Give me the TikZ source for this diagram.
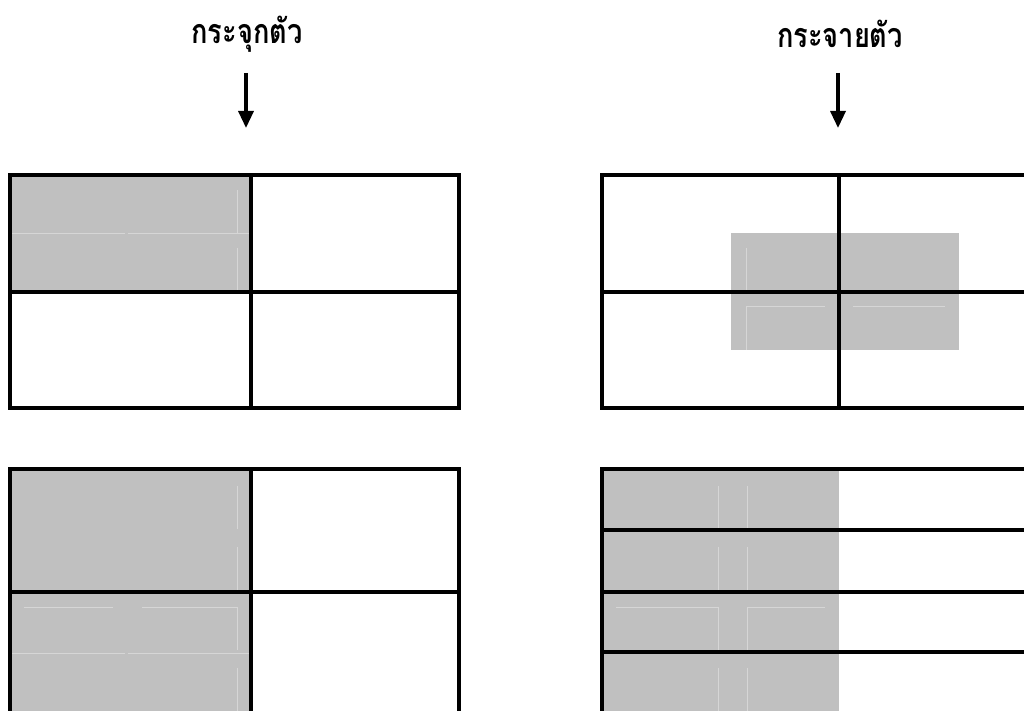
\documentclass[tikz,border=0pt]{standalone}
\usepackage{fontspec}
\newfontfamily\thaifont[Script=Thai, FakeStretch=0.8]{Loma}
\usetikzlibrary{arrows.meta}
\definecolor{cellgray}{HTML}{C0C0C0}
\definecolor{seam}{HTML}{D6D6D6}

\begin{document}
\begin{tikzpicture}[x=1pt,y=-1pt,
  gridline/.style={line width=3.3pt, line cap=rect},
  seamline/.style={seam, line width=0.7pt},
  flow/.style={line width=3.3pt, -{Triangle[width=15pt,length=17pt]}},
  title/.style={font=\thaifont\bfseries\fontsize{34}{40}\selectfont, inner sep=0pt}]
\useasboundingbox (0,0) rectangle (1024,711);
\clip (0,0) rectangle (1024,711);

% headings and arrows
\node[title] (t1) at (247,34) {กระจุกตัว};
\node[title] (t2) at (840,34) {กระจายตัว};
\coordinate (a1s) at (246,73);  \coordinate (a1e) at (246,128);
\coordinate (a2s) at (838,73);  \coordinate (a2e) at (838,128);
\draw[flow] (a1s) -- (a1e);
\draw[flow] (a2s) -- (a2e);

% ---- clustered, upper grid
\fill[cellgray] (10,175) rectangle (251,292);
\draw[seamline] (10,233) -- (125,233) (128,233) -- (251,233);
\draw[seamline] (237,190) -- (237,233) (237,248) -- (237,292);
\draw[gridline] (10,175) rectangle (459,408);
\draw[gridline] (10,292) -- (459,292);
\draw[gridline] (251,175) -- (251,408);

% ---- dispersed, upper grid
\fill[cellgray] (731,233) rectangle (959,350);
\draw[seamline] (746,248) -- (746,292) (746,306) -- (746,350);
\draw[seamline] (746,306) -- (825,306) (853,306) -- (945,306);
\draw[gridline] (1030,175) -- (602,175) -- (602,408) -- (1030,408);
\draw[gridline] (602,292) -- (1030,292);
\draw[gridline] (839,175) -- (839,408);

% ---- clustered, lower grid
\fill[cellgray] (10,469) rectangle (251,720);
\draw[seamline] (237,486) -- (237,529) (237,547) -- (237,592)
                (237,607) -- (237,650) (237,668) -- (237,720);
\draw[seamline] (24,607) -- (113,607) (142,607) -- (237,607);
\draw[seamline] (10,653) -- (125,653) (128,653) -- (251,653);
\draw[gridline] (10,720) -- (10,469) -- (459,469) -- (459,720);
\draw[gridline] (10,592) -- (459,592);
\draw[gridline] (251,469) -- (251,720);

% ---- dispersed, lower grid
\fill[cellgray] (602,469) rectangle (839,720);
\foreach \xx in {718,747}{
  \draw[seamline] (\xx,486) -- (\xx,530) (\xx,547) -- (\xx,592)
                  (\xx,607) -- (\xx,652) (\xx,668) -- (\xx,720);
}
\draw[seamline] (616,607) -- (718,607) (747,607) -- (825,607);
\draw[gridline] (602,720) -- (602,469) -- (1030,469);
\foreach \yy in {530,592,652}{
  \draw[gridline] (602,\yy) -- (1030,\yy);
}
\end{tikzpicture}
\end{document}
